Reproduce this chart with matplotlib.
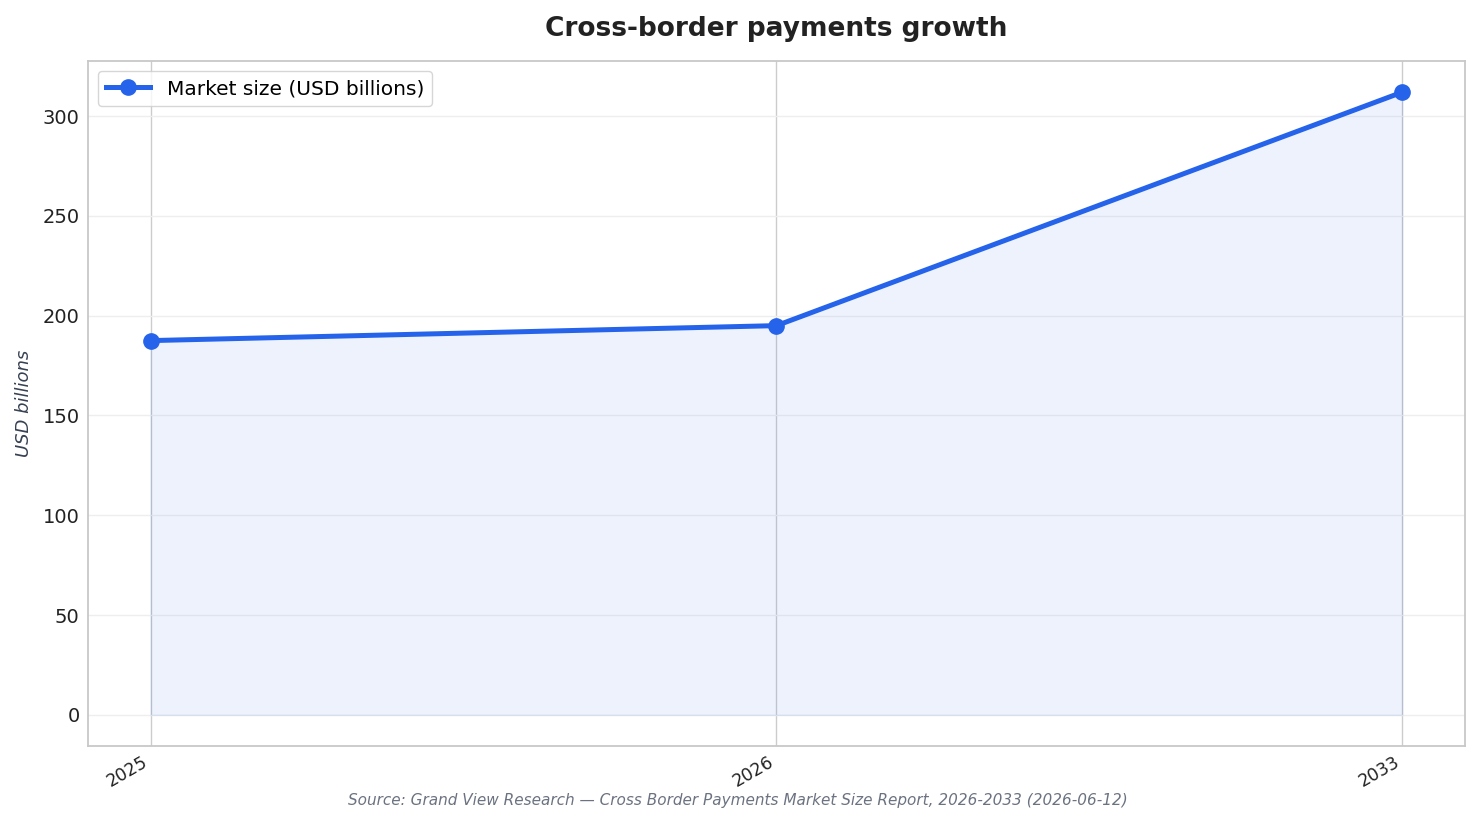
import matplotlib
matplotlib.use("Agg")
import matplotlib.pyplot as plt
import numpy as np

years = ["2025", "2026", "2033"]
market_size = [187.5, 195.0, 312.0]

plt.rcParams['font.family'] = ['DejaVu Sans']

fig, ax = plt.subplots(figsize=(14.81, 8.24), dpi=100)
fig.subplots_adjust(left=0.0594, right=0.9892, top=0.926, bottom=0.0947)

x = np.arange(len(years))
color = "#2563eb"
ax.fill_between(x, market_size, 0, color=color, alpha=0.08, zorder=1)
ax.plot(x, market_size, color=color, lw=3.6, marker="o", markersize=11,
        label="Market size (USD billions)", zorder=3)

ax.set_xticks(x)
ax.set_xticklabels(years, rotation=30, ha="right", fontsize=12.5, color="#222222")
ax.set_xlim(-0.1, 2.1)
ax.tick_params(axis="y", labelsize=14, length=0, labelcolor="#222222", pad=6)
ax.tick_params(axis="x", length=0, pad=5)
ax.grid(axis="y", color="#eeeeee", lw=1)
ax.grid(axis="x", color="#cccccc", lw=1)
ax.set_axisbelow(True)
for s in ax.spines.values():
    s.set_color("#c8c8c8")
    s.set_linewidth(1.3)

ax.set_ylabel("USD billions", fontsize=13, style="italic", color="#374151", labelpad=7)
ax.set_title("Cross-border payments growth", fontsize=19, fontweight="bold",
             color="#222222", pad=18)
leg = ax.legend(loc="upper left", fontsize=14.5, frameon=True, edgecolor="#cccccc",
                handlelength=2.2)
fig.text(0.498, 0.028, "Source: Grand View Research — Cross Border Payments Market Size Report, 2026-2033 (2026-06-12)",
         ha="center", va="center", fontsize=11, style="italic", color="#6b7280")

fig.savefig("out.png", dpi=100)
